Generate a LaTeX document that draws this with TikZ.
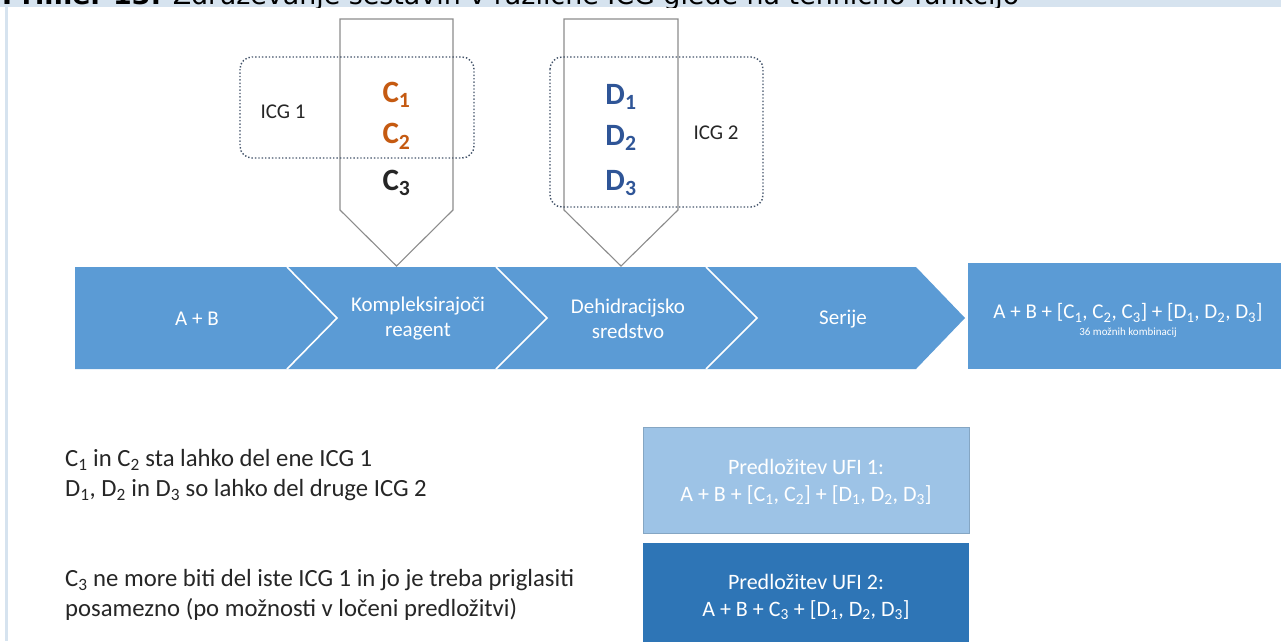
\documentclass[tikz,border=0pt]{standalone}
\usepackage{fontspec}
\setmainfont{Carlito}
\newfontfamily\titlefont{DejaVu Sans}
\definecolor{framebg}{HTML}{D6E3EF}
\definecolor{bandblue}{HTML}{5B9BD5}
\definecolor{paleblue}{HTML}{9DC3E6}
\definecolor{deepblue}{HTML}{2E75B6}
\definecolor{corange}{HTML}{C55A11}
\definecolor{cdark}{HTML}{262626}
\definecolor{dblue}{HTML}{2F5597}
\definecolor{icgline}{HTML}{44546A}
\definecolor{txtgray}{HTML}{262626}
\newcommand{\sbs}[1]{\textsubscript{#1}}
\tikzset{
  stagetext/.style={text=white, align=center, font=\fontsize{21}{25}\selectfont, inner sep=0},
  ufitext/.style={text=white, align=center, font=\fontsize{22}{27}\selectfont, inner sep=0},
  bigletter/.style={font=\fontsize{31}{33}\selectfont\bfseries, inner sep=0},
  icglabel/.style={text=txtgray, font=\fontsize{21}{24}\selectfont, inner sep=0},
  notetext/.style={text=txtgray, anchor=west, align=left, font=\fontsize{24.7}{30}\selectfont, inner sep=0},
  pentagon/.style={draw=gray!90, line width=1.1},
  icgbox/.style={draw=icgline, dotted, line width=1.4, rounded corners=12},
  sep/.style={draw=white, line width=1.6},
}
\begin{document}
\begin{tikzpicture}[x=1pt,y=-1pt]
\useasboundingbox (0,0) rectangle (1281,641);
\fill[white] (0,0) rectangle (1281,641);

% page frame and clipped caption
\fill[framebg] (0,0) rectangle (1281,7);
\fill[framebg] (5,7) rectangle (8,641);
\begin{scope}
  \clip (0,0) rectangle (1281,7);
  \node[anchor=base west, inner sep=0] (title) at (2,4)
    {\resizebox{1017pt}{!}{\titlefont\textbf{Primer 13:} Združevanje sestavin v različne ICG glede na tehnično funkcijo}};
\end{scope}

% process band
\fill[bandblue] (75,267) -- (916,267) -- (965,318) -- (916,369) -- (75,369) -- cycle;
\draw[sep] (287,267) -- (337,318) -- (287,369);
\draw[sep] (496,267) -- (547,318) -- (496,369);
\draw[sep] (706,267) -- (757,318) -- (706,369);

\node[stagetext] (ab) at (197,319) {A + B};
\node[stagetext] (komp) at (418,319) {Kompleksirajoči\\reagent};
\node[stagetext] (dehid) at (628,319) {Dehidracijsko\\sredstvo};
\node[stagetext] (serije) at (843,319) {Serije};

% result box
\fill[bandblue] (968,263) rectangle (1281,369);
\node[stagetext] (result) at (1128,313)
  {A + B + [C\sbs{1}, C\sbs{2}, C\sbs{3}] + [D\sbs{1}, D\sbs{2}, D\sbs{3}]};
\node[stagetext, font=\fontsize{11}{12}\selectfont] (combos) at (1128,333) {36 možnih kombinacij};

% insertion pointers
\draw[pentagon] (340,19) -- (453,19) -- (453,210) -- (396.5,266) -- (340,210) -- cycle;
\draw[pentagon] (564,19) -- (678,19) -- (678,210) -- (621,266) -- (564,210) -- cycle;

% ICG groups
\draw[icgbox] (240,57) rectangle (474,158);
\draw[icgbox] (550,57) rectangle (763,207);
\node[icglabel] (icg1) at (283,112) {ICG 1};
\node[icglabel] (icg2) at (716,133) {ICG 2};

\node[bigletter, text=corange] (c1) at (396.5,95) {C\sbs{1}};
\node[bigletter, text=corange] (c2) at (396.5,136) {C\sbs{2}};
\node[bigletter, text=cdark] (c3) at (396.5,183) {C\sbs{3}};
\node[bigletter, text=dblue] (d1) at (621,97) {D\sbs{1}};
\node[bigletter, text=dblue] (d2) at (621,138) {D\sbs{2}};
\node[bigletter, text=dblue] (d3) at (621,183) {D\sbs{3}};

% notes
\node[notetext] (note1) at (65,475)
  {C\sbs{1} in C\sbs{2} sta lahko del ene ICG 1\\D\sbs{1}, D\sbs{2} in D\sbs{3} so lahko del druge ICG 2};
\node[notetext] (note2) at (65,595)
  {C\sbs{3} ne more biti del iste ICG 1 in jo je treba priglasiti\\posamezno (po možnosti v ločeni predložitvi)};

% submissions
\filldraw[fill=paleblue, draw=paleblue!85!black] (643,427) rectangle (969,533);
\node[ufitext] (ufi1) at (806,482)
  {Predložitev UFI 1:\\A + B + [C\sbs{1}, C\sbs{2}] + [D\sbs{1}, D\sbs{2}, D\sbs{3}]};
\fill[deepblue] (643,543) rectangle (969,649);
\node[ufitext] (ufi2) at (806,597)
  {Predložitev UFI 2:\\A + B + C\sbs{3} + [D\sbs{1}, D\sbs{2}, D\sbs{3}]};
\end{tikzpicture}
\end{document}
